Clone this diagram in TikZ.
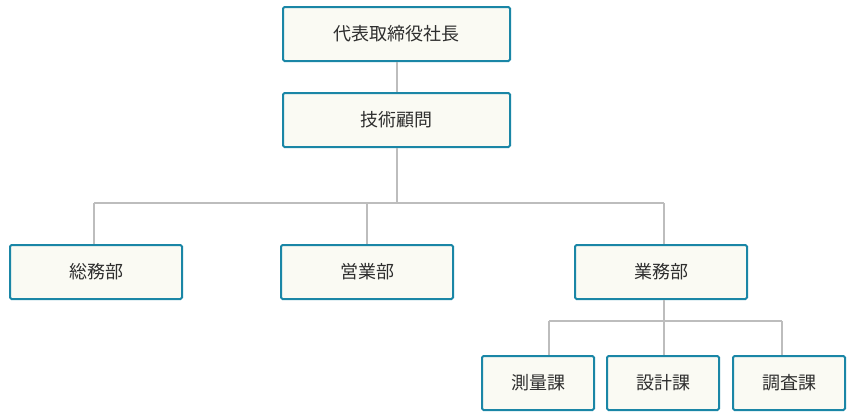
\documentclass[tikz,border=0pt]{standalone}
\usepackage{fontspec}
\usepackage{xcolor}
\usepackage{tikz}
\setmainfont{Noto Sans CJK JP}
\definecolor{boxline}{HTML}{1A86A6}
\definecolor{boxfill}{HTML}{FAFAF3}
\definecolor{linkgray}{HTML}{BDBDBD}
\definecolor{textgray}{HTML}{2E2E2E}

\begin{document}
\begin{tikzpicture}[x=1pt, y=-1pt,
    box/.style={rectangle, draw=boxline, fill=boxfill, line width=2pt, rounded corners=1.5pt,
        minimum height=54pt, text=textgray, font=\fontsize{18}{21}\selectfont, inner sep=0pt},
    bigbox/.style={box, minimum width=227pt},
    midbox/.style={box, minimum width=172pt},
    smallbox/.style={box, minimum width=112pt},
    link/.style={draw=linkgray, line width=2pt}]
    \useasboundingbox (0,0) rectangle (856,415);

    \node[bigbox] (ceo) at (396.5,34) {代表取締役社長};
    \node[bigbox] (adv) at (396.5,120) {技術顧問};
    \node[midbox] (soumu) at (96,272) {総務部};
    \node[midbox] (eigyo) at (367,272) {営業部};
    \node[midbox] (gyomu) at (661,272) {業務部};
    \node[smallbox] (sokuryo) at (538,383) {測量課};
    \node[smallbox] (sekkei) at (663,383) {設計課};
    \node[smallbox] (chosa) at (789,383) {調査課};

    \coordinate (j1) at (94,203);
    \coordinate (j2) at (367,203);
    \coordinate (j3) at (664,203);
    \coordinate (k1) at (549,321);
    \coordinate (k2) at (664,321);
    \coordinate (k3) at (782,321);

    \draw[link] (ceo) -- (adv);
    \draw[link] (adv.south) -- (adv.south |- j1);
    \draw[link] (j1) -- (j3);
    \draw[link] (j1) -- (j1 |- soumu.north);
    \draw[link] (j2) -- (j2 |- eigyo.north);
    \draw[link] (j3) -- (j3 |- gyomu.north);
    \draw[link] (gyomu.south -| k2) -- (k2);
    \draw[link] (k1) -- (k3);
    \draw[link] (k1) -- (k1 |- sokuryo.north);
    \draw[link] (k2) -- (k2 |- sekkei.north);
    \draw[link] (k3) -- (k3 |- chosa.north);
\end{tikzpicture}
\end{document}
